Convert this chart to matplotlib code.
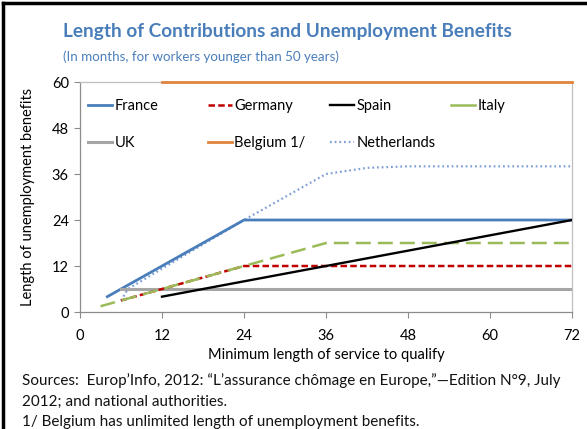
import matplotlib
matplotlib.use("Agg")
import matplotlib.pyplot as plt
from matplotlib.lines import Line2D
from matplotlib.legend import Legend

plt.rcParams['font.family'] = ['Lato', 'DejaVu Sans']

# ---- data ----
france_x = [4, 24, 72]
france_y = [4, 24, 24]
germany_x = [6, 24, 72]
germany_y = [3, 12, 12]
spain_x = [12, 72]
spain_y = [4, 24]
italy_x = [3, 36, 72]
italy_y = [1.5, 18, 18]
uk_x = [6, 72]
uk_y = [6, 6]
belgium_x = [12, 72]
belgium_y = [60, 60]
neth_x = [6, 7, 24, 36, 42, 48, 72]
neth_y = [3, 6, 24, 36, 37.6, 38, 38]

x_ticks = [0, 12, 24, 36, 48, 60, 72]
y_ticks = [0, 12, 24, 36, 48, 60]

title = "Length of Contributions and Unemployment Benefits"
subtitle = "(In months, for workers younger than 50 years)"
xlabel = "Minimum length of service to qualify"
ylabel = "Length of unemployment benefits"
notes = ["Sources:  Europ\u2019Info, 2012: \u201cL\u2019assurance ch\u00f4mage en Europe,\u201d\u2014Edition N\u00b09, July",
         "2012; and national authorities.",
         "1/ Belgium has unlimited length of unemployment benefits."]

W, H = 587, 429
fig = plt.figure(figsize=(W / 100, H / 100), dpi=100)
ax = fig.add_axes([80 / W, 1 - 312 / H, (572 - 80) / W, (312 - 82) / H])

C_FR = '#4A7EBB'
C_DE = '#C00000'
C_IT = '#9BBB59'
C_UK = '#A6A6A6'
C_BE = '#E0843E'
C_NL = '#7F9FD5'
C_TXT = '#4A7EBB'
C_AX = '#8C8C8C'

nl, = ax.plot(neth_x, neth_y, color=C_NL, lw=1.6, dashes=(0.8, 1.3), zorder=2, label='Netherlands')
fr, = ax.plot(france_x, france_y, color=C_FR, lw=2.0, zorder=3, label='France')
uk, = ax.plot(uk_x, uk_y, color=C_UK, lw=2.2, zorder=3, label='UK')
de, = ax.plot(germany_x, germany_y, color=C_DE, lw=1.8, dashes=(2.6, 1.3), zorder=4, label='Germany')
it, = ax.plot(italy_x, italy_y, color=C_IT, lw=1.8, dashes=(6, 2.8), zorder=4, label='Italy')
es, = ax.plot(spain_x, spain_y, color='black', lw=1.7, zorder=5, label='Spain')
be, = ax.plot(belgium_x, belgium_y, color=C_BE, lw=2.0, zorder=5, label='Belgium 1/', clip_on=False)

# legend proxy for Italy: long dash looks solid over the short handle
it_h = Line2D([], [], color=C_IT, lw=1.8, label='Italy')

ax.set_xlim(0, 72)
ax.set_ylim(0, 60)
ax.set_xticks(x_ticks)
ax.set_yticks(y_ticks)
ax.tick_params(direction='out', length=4, width=0.8, color=C_AX, labelsize=10.5)
ax.tick_params(axis='x', pad=8)
ax.tick_params(axis='y', pad=4)
for s in ax.spines.values():
    s.set_color('#BFBFBF')
    s.set_linewidth(0.9)
ax.spines['left'].set_color(C_AX)
ax.spines['bottom'].set_color(C_AX)

ax.set_xlabel(xlabel, fontsize=10.5, labelpad=4)
ax.set_ylabel(ylabel, fontsize=10.5, labelpad=12)

# legend: 4 columns with uniform spacing (Excel-style)
cols = [[fr, uk], [de, be], [es, nl], [it_h]]
col_x = [88, 208, 330, 451]
for hs, px in zip(cols, col_x):
    leg = Legend(ax, hs, [h.get_label() for h in hs], loc='upper left',
                 bbox_to_anchor=(px / W, 1 - 99 / H), bbox_transform=fig.transFigure,
                 frameon=False, fontsize=10.5, handlelength=1.65, handletextpad=0.15,
                 labelspacing=1.55, borderaxespad=0, borderpad=0)
    ax.add_artist(leg)

# texts
t1 = fig.text(63 / W, 1 - 32 / H, title, fontsize=13.5, fontweight='bold', color=C_TXT, va='center', ha='left')
t2 = fig.text(63 / W, 1 - 57 / H, subtitle, fontsize=10.5, color=C_TXT, va='center', ha='left')
n_y = [381, 402, 422]
nt = [fig.text(22 / W, 1 - y / H, s, fontsize=10.5, color='#111111', va='center', ha='left') for s, y in zip(notes, n_y)]

# fit text widths to the reference
fig.canvas.draw()
r = fig.canvas.get_renderer()
def fit(t, target):
    w = t.get_window_extent(r).width
    t.set_fontsize(t.get_fontsize() * target / w)
fit(t1, 450)
fit(t2, 277)
fit(nt[0], 541)
for t in nt[1:]:
    t.set_fontsize(nt[0].get_fontsize())

# frame lines (top and left)
fig.add_artist(Line2D([3 / W, 3 / W], [0, 1 - 3 / H], color='black', lw=2.5, transform=fig.transFigure))
fig.add_artist(Line2D([3 / W, 1], [1 - 3 / H, 1 - 3 / H], color='black', lw=2.5, transform=fig.transFigure))

fig.savefig('out.png', dpi=100)
